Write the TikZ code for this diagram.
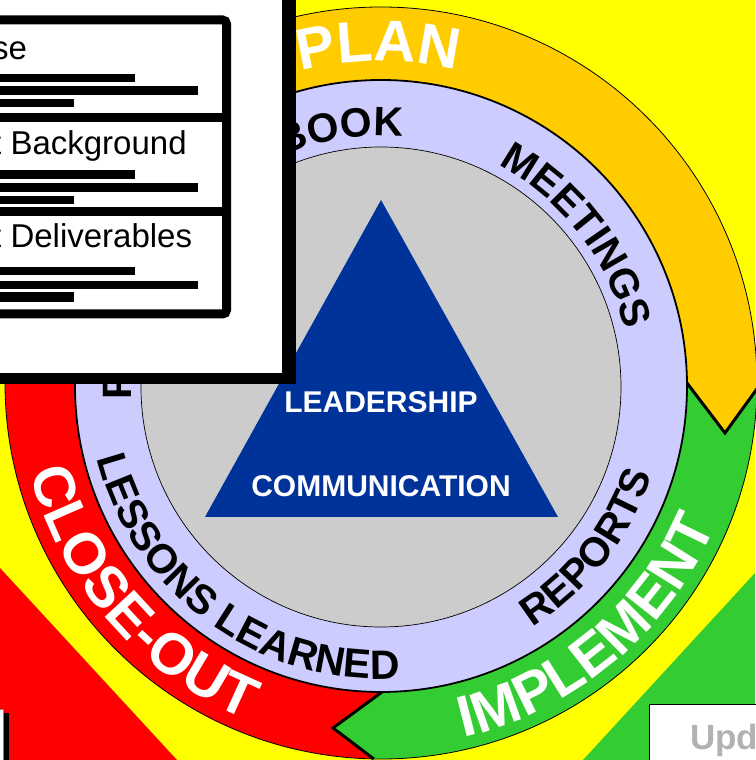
\documentclass[tikz,border=0pt]{standalone}
\usepackage{fontspec}
\setmainfont{Liberation Sans}
\usetikzlibrary{calc,decorations.text}
\definecolor{bgyellow}{HTML}{FFFF00}
\definecolor{planc}{HTML}{FFCC00}
\definecolor{implc}{HTML}{33CC33}
\definecolor{closec}{HTML}{FF0000}
\definecolor{lavc}{HTML}{CCCCFF}
\definecolor{greyc}{HTML}{CCCCCC}
\definecolor{navyc}{HTML}{003399}
\definecolor{updc}{HTML}{B2B2B2}
\tikzset{
  ringtxt/.style={decorate, decoration={text along path, text align=center,
      text={|\bfseries\fontsize{58}{58}\selectfont\color{white}|#1}}},
  lavtxt/.style={decorate, decoration={text along path, text align=center,
      text={|\bfseries\fontsize{41}{41}\selectfont\color{black}|#1}}},
  lavtxtleft/.style={decorate, decoration={text along path, text align=left,
      text={|\bfseries\fontsize{41}{41}\selectfont\color{black}|#1}}},
  lavtxtright/.style={decorate, decoration={text along path, text align=right,
      text={|\bfseries\fontsize{41}{41}\selectfont\color{black}|#1}}},
  ctext/.style={text=white, font=\bfseries\fontsize{30}{30}\selectfont, inner sep=0pt},
  ptext/.style={text=black, font=\fontsize{33}{33}\selectfont, inner sep=0pt, anchor=base west},
  chev/.style={draw=black, line width=3pt, line join=miter},
  bar/.style={fill=black},
}
\begin{document}
\begin{tikzpicture}[x=1pt,y=1pt]
\useasboundingbox (0,0) rectangle (755,760);
\fill[bgyellow] (0,0) rectangle (755,760);
% corner regions
\fill[closec] (0,192) -- (177,0) -- (0,0) -- cycle;
\fill[implc] (755,187) -- (583,0) -- (755,0) -- cycle;
% centres
\coordinate (O) at (381,377);
\coordinate (L) at (381,374);
\coordinate (G) at (381,373);
% chevron points
\coordinate (oi) at (687,377);
\coordinate (ot) at (725,327);
\coordinate (oo) at ($(O)+(-0.9:376pt)$);
\coordinate (gi) at (382,68);
\coordinate (gt) at (333,32);
\coordinate (go) at ($(O)+(-91.1:376pt)$);
% ring segments
\fill[planc] (O) -- ($(O)+(130:376pt)$) arc[start angle=130,end angle=-0.9,radius=376pt] -- (ot) -- (oi) -- cycle;
\fill[implc] (O) -- (oi) -- (ot) -- (oo) arc[start angle=-0.9,end angle=-91.1,radius=376pt] -- (gt) -- (gi) -- cycle;
\fill[closec] (O) -- (gi) -- (gt) -- (go) arc[start angle=-91.1,end angle=-230,radius=376pt] -- cycle;
\draw[line width=0.8pt] (O) circle[radius=376pt];
\draw[chev] (oi) -- (ot) -- (oo);
\draw[chev] (gi) -- (gt) -- (go);
% lavender ring and grey disc
\filldraw[fill=lavc, draw=black, line width=1.8pt] (L) circle[radius=306pt];
\filldraw[fill=greyc, draw=black, line width=0.7pt] (G) circle[radius=240pt];
% triangle
\coordinate (ta) at (381,560);
\coordinate (tb) at (205,243);
\coordinate (tc) at (558,243);
\fill[navyc] (ta) -- (tb) -- (tc) -- cycle;
\node[ctext, anchor=base] (lead) at (381,347) {LEADERSHIP};
\node[ctext, anchor=base] (comm) at (381,263) {COMMUNICATION};
% ring texts
\path[ringtxt={PLAN}] ($(O)+(121:322pt)$) arc[start angle=121,end angle=60,radius=322pt];
\path[ringtxt={IMPLEMENT}] ($(O)+(-85:364pt)$) arc[start angle=-85,end angle=-15,radius=364pt];
\path[ringtxt={CLOSE-OUT}] ($(O)+(186.25:362pt)$) arc[start angle=186.25,end angle=256.25,radius=362pt];
% lavender texts
\path[lavtxtleft={P}] ($(L)+(183.2:250pt)$) arc[start angle=183.2,end angle=160,radius=250pt];
\path[lavtxtright={BOOK}] ($(L)+(130:250pt)$) arc[start angle=130,end angle=85,radius=250pt];
\path[lavtxt={MEETINGS}] ($(L)+(80:250pt)$) arc[start angle=80,end angle=-5,radius=250pt];
\path[lavtxt={REPORTS}] ($(L)+(-80:285pt)$) arc[start angle=-80,end angle=4,radius=285pt];
\path[lavtxt={LESSONS LEARNED}] ($(L)+(180:293pt)$) arc[start angle=180,end angle=288,radius=293pt];
% top-left panel
\fill[black] (-20,376) rectangle (296,780);
\fill[white] (-20,387) rectangle (282,780);
\draw[line width=9pt, rounded corners=4pt, fill=white] (-20,740) rectangle (226.5,446);
\draw[line width=9pt] (-20,642.5) -- (226.5,642.5);
\draw[line width=9pt] (-20,548.5) -- (226.5,548.5);
\node[ptext] (s1) at (-8,700) {se};
\node[ptext] (s2) at (-8,605) {t Background};
\node[ptext] (s3) at (-8,512) {t Deliverables};
\fill[bar] (-10,678) rectangle (135,686);
\fill[bar] (-10,665) rectangle (198,674);
\fill[bar] (-10,653) rectangle (74,661);
\fill[bar] (-10,581) rectangle (135,590);
\fill[bar] (-10,568) rectangle (198,577);
\fill[bar] (-10,556) rectangle (74,564);
\fill[bar] (-10,485) rectangle (135,493);
\fill[bar] (-10,471) rectangle (198,479);
\fill[bar] (-10,458) rectangle (74,468);
% bottom-left box
\fill[black] (-10,-10) rectangle (9,47);
\filldraw[fill=white, draw=gray, line width=0.8pt] (-10,-10) rectangle (3,51);
% bottom-right box
\filldraw[fill=white, draw=black, line width=1pt] (649,-10) rectangle (770,55);
\node[inner sep=0pt, anchor=base west, text=updc, font=\bfseries\fontsize{35}{35}\selectfont] (upd) at (690,10) {Upd};
\end{tikzpicture}
\end{document}
